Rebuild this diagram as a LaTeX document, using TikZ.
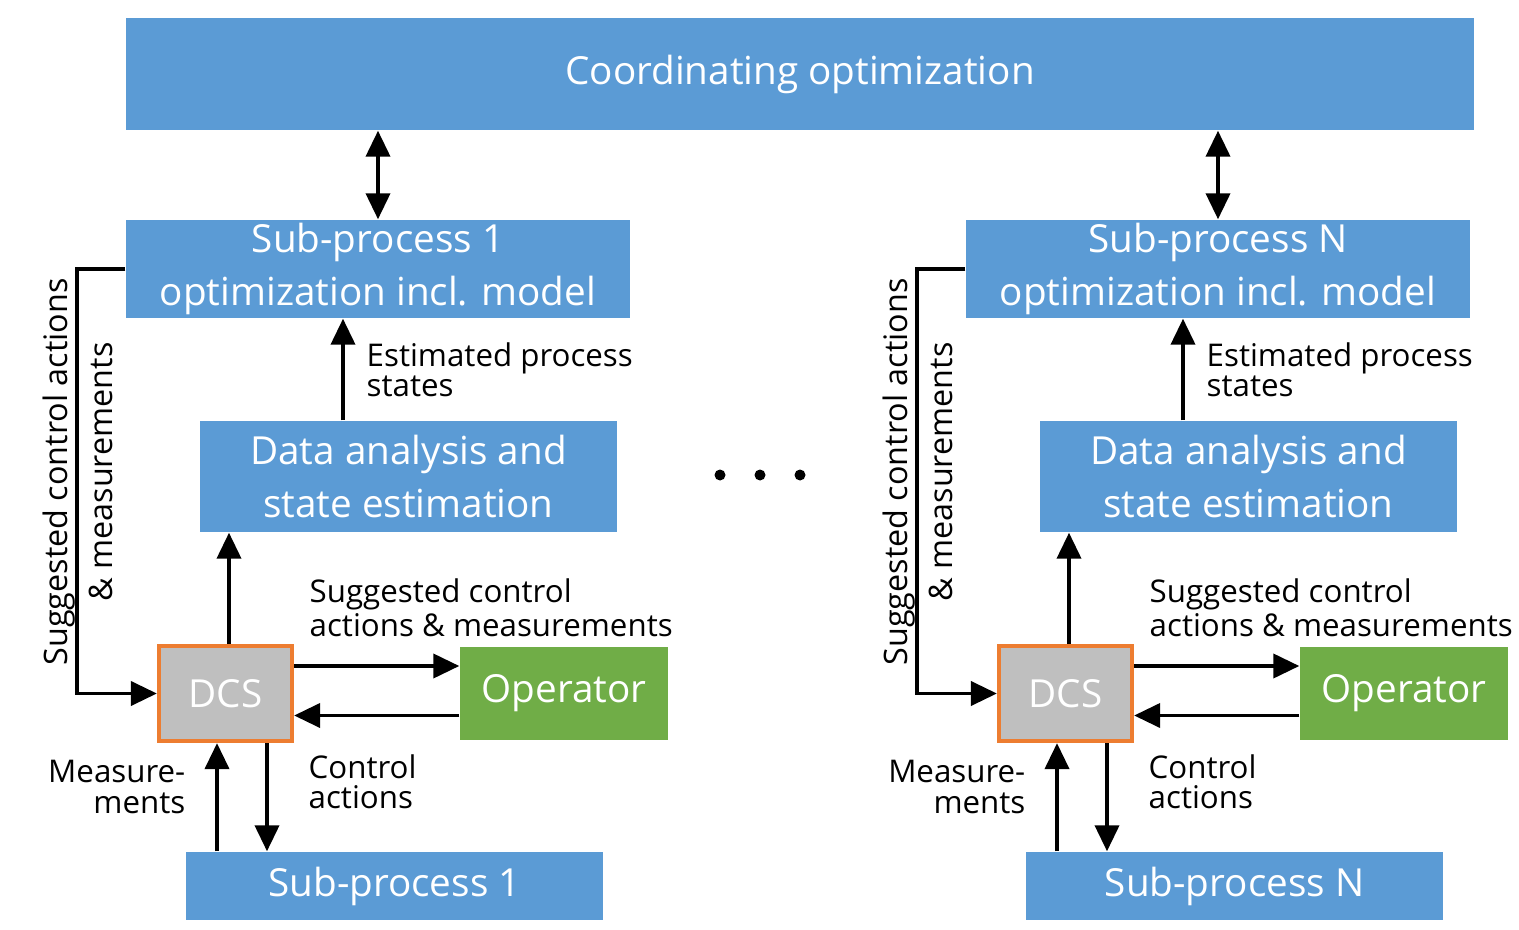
\documentclass[tikz,border=0pt]{standalone}
\usepackage{fontspec}
\setmainfont{Open Sans}
\usetikzlibrary{arrows.meta}
\definecolor{boxblue}{RGB}{91,155,213}
\definecolor{opgreen}{RGB}{112,173,71}
\definecolor{dcsorange}{RGB}{237,125,49}
\definecolor{dcsgray}{RGB}{191,191,191}
\tikzset{
  blk/.style={fill=boxblue, text=white, inner sep=0pt, align=center,
    font=\fontsize{11}{15}\selectfont},
  lbl/.style={inner sep=0pt, align=left, font=\fontsize{8.9}{8.6}\selectfont},
  conn/.style={line width=1.1pt, -{Triangle[length=2.6mm,width=2.4mm]}},
  biconn/.style={line width=1.1pt, {Triangle[length=2.6mm,width=2.4mm]}-{Triangle[length=2.6mm,width=2.4mm]}},
}
\begin{document}
\begin{tikzpicture}
  \useasboundingbox (0,0) rectangle (15.19,-9.30);
  \node[blk, minimum width=13.48cm, minimum height=1.12cm] (coord) at (8.0,-0.74) {Coordinating optimization};
  % one column per sub-process
  \foreach \k/\dx/\nm in {a/0/1, b/8.4/N} {
    \begin{scope}[xshift=\dx cm]
    \node[blk, minimum width=5.04cm, minimum height=0.98cm] (opt\k) at (3.78,-2.69) {Sub-process \nm\\optimization incl. model};
    \node[blk, minimum width=4.17cm, minimum height=1.11cm] (data\k) at (4.085,-4.765) {Data analysis and\\state estimation};
    \node[blk, fill=dcsgray, draw=dcsorange, line width=1.2pt, minimum width=1.33cm, minimum height=0.95cm] (dcs\k) at (2.255,-6.935) {DCS};
    \node[blk, fill=opgreen, minimum width=2.08cm, minimum height=0.93cm] (op\k) at (5.64,-6.935) {Operator};
    \node[blk, minimum width=4.17cm, minimum height=0.68cm] (sub\k) at (3.945,-8.86) {Sub-process \nm};
    \draw[biconn] (coord.south -| opt\k.north) -- (opt\k.north);
    \draw[conn] ([xshift=-6.55mm]data\k.north) -- ([xshift=-6.55mm]data\k.north |- opt\k.south);
    \draw[conn] ([xshift=0.35mm]dcs\k.north) -- ([xshift=0.35mm]dcs\k.north |- data\k.south);
    \draw[conn] ([yshift=2.75mm]dcs\k.east) -- ([yshift=2.75mm]dcs\k.east -| op\k.west);
    \draw[conn] ([yshift=-2.2mm]op\k.west) -- ([yshift=-2.2mm]op\k.west -| dcs\k.east);
    \draw[conn] ([xshift=-0.85mm]dcs\k.south |- sub\k.north) -- ([xshift=-0.85mm]dcs\k.south);
    \draw[conn] ([xshift=4.15mm]dcs\k.south) -- ([xshift=4.15mm]dcs\k.south |- sub\k.north);
    \draw[conn] (opt\k.west) -- ++(-0.48,0) |- (dcs\k.west);
    \node[lbl, anchor=west] (est\k) at (3.66,-3.70) {Estimated process\\states};
    \node[lbl, anchor=west] (sug\k) at (3.09,-6.08) {Suggested control\\actions \& measurements};
    \node[lbl, anchor=west] (ctl\k) at (3.08,-7.82) {Control\\actions};
    \node[lbl, anchor=east, align=right] (mea\k) at (1.86,-7.87) {Measure-\\ments};
    \node[lbl, align=center, rotate=90, font=\fontsize{9.2}{12.8}\selectfont] (fb\k) at (0.775,-4.72) {Suggested control actions\\\& measurements};
    \end{scope}
  }
  % dots between the columns
  \foreach \x in {7.2,7.6,8.0} \fill (\x,-4.75) circle (0.055);
\end{tikzpicture}
\end{document}
